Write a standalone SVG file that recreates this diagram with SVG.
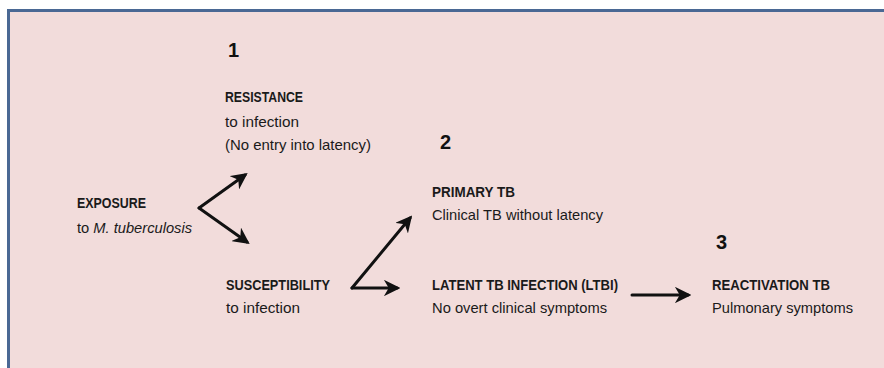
<svg xmlns="http://www.w3.org/2000/svg" width="884" height="368" viewBox="0 0 884 368">
<style>
.t{font-family:"Liberation Sans",Arial,sans-serif;font-size:15px;fill:#1a1a1a}
.b{font-weight:bold}
.n{font-family:"Liberation Sans",Arial,sans-serif;font-size:20px;font-weight:bold;fill:#111}
.c{stroke:#111;stroke-width:3;fill:none;stroke-linecap:round}
</style>
<defs>
<marker id="ah" viewBox="0 0 10 10" refX="8" refY="5" markerWidth="5.5" markerHeight="5.5" orient="auto" markerUnits="strokeWidth">
<path d="M0,0 L10,5 L0,10 L3,5 Z" fill="#111"/>
</marker>
</defs>
<rect x="0" y="0" width="884" height="368" fill="#ffffff"/>
<rect x="8.5" y="10.5" width="890" height="370" fill="#f2dcdb" stroke="#4a6894" stroke-width="3"/>
<g id="label-1"><text class="n" x="228" y="57">1</text></g>
<g id="label-2"><text class="n" x="440" y="149">2</text></g>
<g id="label-3"><text class="n" x="716" y="249">3</text></g>
<g id="exposure">
<text class="t b" x="77" y="208" textLength="69" lengthAdjust="spacingAndGlyphs">EXPOSURE</text>
<text class="t" x="77" y="233" textLength="115" lengthAdjust="spacingAndGlyphs">to <tspan font-style="italic">M. tuberculosis</tspan></text>
</g>
<g id="resistance">
<text class="t b" x="225" y="102" textLength="78" lengthAdjust="spacingAndGlyphs">RESISTANCE</text>
<text class="t" x="225" y="127" textLength="74" lengthAdjust="spacingAndGlyphs">to infection</text>
<text class="t" x="225" y="150" textLength="146" lengthAdjust="spacingAndGlyphs">(No entry into latency)</text>
</g>
<g id="susceptibility">
<text class="t b" x="226" y="290" textLength="104" lengthAdjust="spacingAndGlyphs">SUSCEPTIBILITY</text>
<text class="t" x="226" y="313" textLength="74" lengthAdjust="spacingAndGlyphs">to infection</text>
</g>
<g id="primary">
<text class="t b" x="432" y="197" textLength="83" lengthAdjust="spacingAndGlyphs">PRIMARY TB</text>
<text class="t" x="432" y="220" textLength="171" lengthAdjust="spacingAndGlyphs">Clinical TB without latency</text>
</g>
<g id="ltbi">
<text class="t b" x="432" y="290" textLength="186" lengthAdjust="spacingAndGlyphs">LATENT TB INFECTION (LTBI)</text>
<text class="t" x="432" y="313" textLength="175" lengthAdjust="spacingAndGlyphs">No overt clinical symptoms</text>
</g>
<g id="reactivation">
<text class="t b" x="712" y="290" textLength="118" lengthAdjust="spacingAndGlyphs">REACTIVATION TB</text>
<text class="t" x="712" y="313" textLength="141" lengthAdjust="spacingAndGlyphs">Pulmonary symptoms</text>
</g>
<g id="connectors">
<path class="c" d="M199,208 L245,175" marker-end="url(#ah)"/>
<path class="c" d="M199,208 L247,242" marker-end="url(#ah)"/>
<path class="c" d="M352,288 L410,218" marker-end="url(#ah)"/>
<path class="c" d="M352,288 L397,288" marker-end="url(#ah)"/>
<path class="c" d="M632,295 L688,295" marker-end="url(#ah)"/>
</g>
</svg>
